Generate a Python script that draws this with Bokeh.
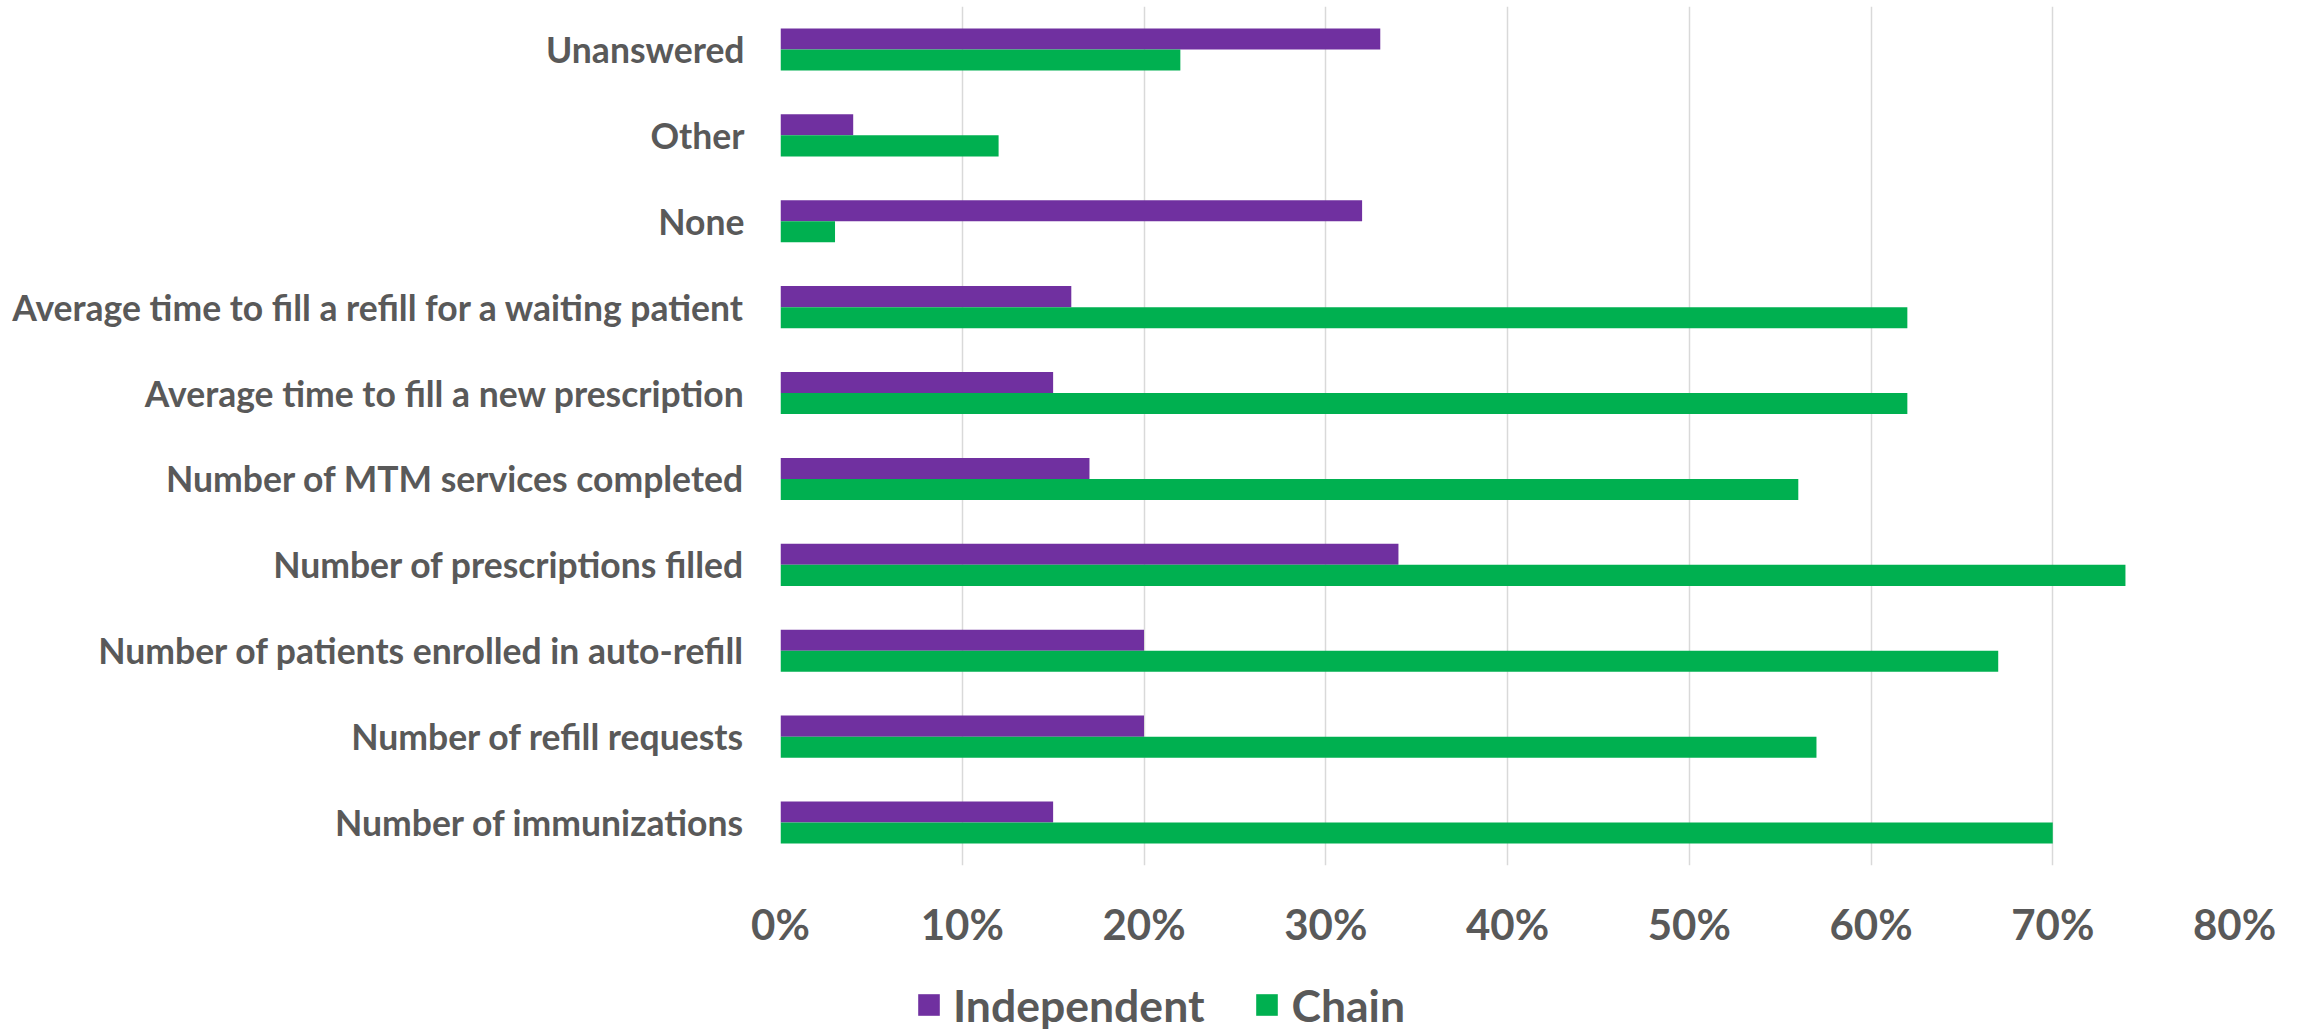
from bokeh.plotting import figure
from bokeh.layouts import column
from bokeh.models import FixedTicker, Legend, LegendItem, ColumnDataSource, FactorRange, Range1d
from bokeh.transform import dodge
from bokeh.embed import file_html
from bokeh.resources import INLINE

categories = [
    "Unanswered",
    "Other",
    "None",
    "Average time to fill a refill for a waiting patient",
    "Average time to fill a new prescription",
    "Number of MTM services completed",
    "Number of prescriptions filled",
    "Number of patients enrolled in auto-refill",
    "Number of refill requests",
    "Number of immunizations",
]
independent = [33, 4, 32, 16, 15, 17, 34, 20, 20, 15]
chain = [22, 12, 3, 62, 62, 56, 74, 67, 57, 70]
x_ticks = [0, 10, 20, 30, 40, 50, 60, 70, 80]
x_tick_labels = ["0%", "10%", "20%", "30%", "40%", "50%", "60%", "70%", "80%"]
series_names = ["Independent", "Chain"]

PURPLE = "#7030A0"
GREEN = "#00B050"
TEXT = "#595959"
FONT = "Lato"

W = 2303
H_MAIN = 965
H_LEG = 65
BL, BR = 780, 69

src = ColumnDataSource(dict(cat=categories, independent=independent, chain=chain))

p = figure(
    width=W, height=H_MAIN,
    y_range=FactorRange(factors=list(reversed(categories)), range_padding=0),
    x_range=Range1d(0, 80),
    output_backend="svg", toolbar_location=None,
    min_border_left=BL, min_border_right=BR, min_border_top=6, min_border_bottom=100,
)
p.outline_line_color = None

bh = 0.245
p.hbar(y=dodge("cat", bh / 2, range=p.y_range), left=0, right="independent",
       height=bh, source=src, fill_color=PURPLE, line_color=None)
p.hbar(y=dodge("cat", -bh / 2, range=p.y_range), left=0, right="chain",
       height=bh, source=src, fill_color=GREEN, line_color=None)

ticker = FixedTicker(ticks=x_ticks)
p.xaxis.ticker = ticker
p.xaxis.major_label_overrides = {t: l for t, l in zip(x_ticks, x_tick_labels)}
p.xgrid.ticker = ticker
p.xgrid.grid_line_color = "#D9D9D9"
p.xgrid.grid_line_width = 1.5
p.ygrid.visible = False

for ax in (p.xaxis, p.yaxis):
    ax.axis_line_color = None
    ax.major_tick_line_color = None
    ax.minor_tick_line_color = None
    ax.major_label_text_font = FONT
    ax.major_label_text_font_style = "bold"
    ax.major_label_text_color = TEXT

p.yaxis.major_label_text_font_size = "35.5px"
p.yaxis.major_label_standoff = 30
p.xaxis.major_label_text_font_size = "42px"
p.xaxis.major_label_standoff = 27

# Legend strip below the chart (legend-only renderers, hidden in the strip itself)
lf = figure(
    width=W, height=H_LEG,
    y_range=FactorRange(factors=list(reversed(categories))),
    x_range=Range1d(0, 80),
    output_backend="svg", toolbar_location=None,
    x_axis_location=None, y_axis_location=None,
    min_border_left=BL, min_border_right=BR, min_border_top=0, min_border_bottom=0,
)
lf.outline_line_color = None
lf.xgrid.visible = False
lf.ygrid.visible = False
lf.background_fill_alpha = 0
lf.border_fill_alpha = 0
l1 = lf.hbar(y="cat", left=0, right="independent", height=bh, source=src,
             fill_color=PURPLE, line_color=None, visible=False)
l2 = lf.hbar(y="cat", left=0, right="chain", height=bh, source=src,
             fill_color=GREEN, line_color=None, visible=False)

legend = Legend(
    items=[LegendItem(label=series_names[0], renderers=[l1]),
           LegendItem(label=series_names[1], renderers=[l2])],
    orientation="horizontal",
    location=(915 - BL, -1),
    padding=0, margin=0, spacing=49,
    glyph_width=27, glyph_height=27, label_standoff=11,
    border_line_color=None, background_fill_alpha=0,
    label_text_font=FONT, label_text_font_style="bold",
    label_text_font_size="44.5px", label_text_color=TEXT,
)
lf.add_layout(legend)

layout = column(p, lf, spacing=0)
open("out.html", "w").write(file_html(layout, INLINE))
